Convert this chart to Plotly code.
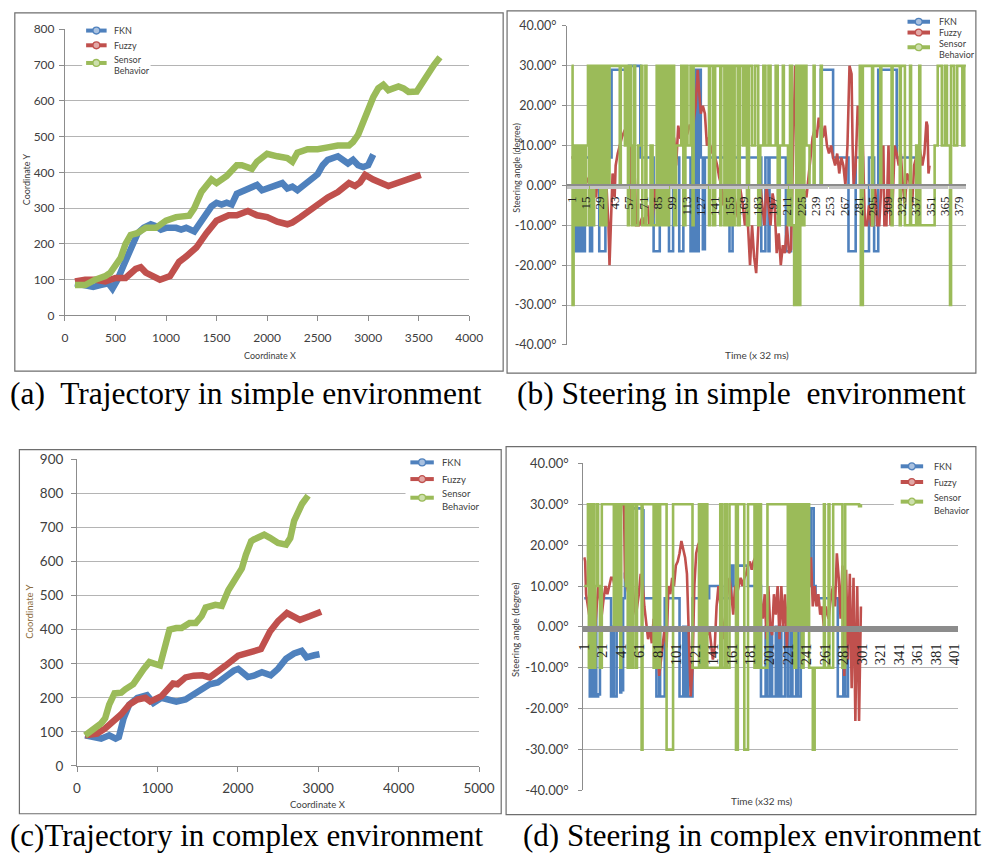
import plotly.graph_objects as go

W, H = 987, 860

# ---------------- (a) trajectory, simple environment ----------------
A_FKN_X = [100, 200, 280, 350, 430, 470, 520, 580, 650, 720, 780, 850, 900, 950, 1000, 1100, 1150, 1200, 1280,
           1320, 1400, 1450, 1500, 1550, 1600, 1650, 1700, 1800, 1900, 1950, 2000, 2050, 2150, 2200, 2250, 2300,
           2400, 2500, 2550, 2600, 2700, 2750, 2800, 2850, 2900, 2950, 3000, 3050]
A_FKN_Y = [90, 85, 80, 85, 90, 75, 100, 140, 190, 230, 245, 255, 250, 240, 245, 245, 240, 245, 235,
           250, 280, 305, 315, 310, 315, 310, 340, 355, 365, 350, 355, 360, 370, 355, 360, 350,
           370, 395, 420, 435, 445, 435, 425, 435, 420, 415, 420, 450]
A_FUZZY_X = [100, 200, 300, 400, 500, 600, 700, 750, 800, 940, 1040, 1130, 1200, 1300, 1400, 1500, 1620, 1700,
             1810, 1900, 2000, 2100, 2200, 2250, 2330, 2400, 2520, 2600, 2700, 2810, 2870, 2920, 2970, 3050,
             3200, 3300, 3400, 3520]
A_FUZZY_Y = [95, 100, 100, 95, 105, 105, 130, 135, 120, 100, 110, 150, 165, 190, 230, 265, 280, 280,
             292, 280, 275, 262, 255, 260, 275, 290, 312, 330, 345, 370, 362, 372, 393, 380,
             362, 372, 378, 393]
A_SENSOR_X = [100, 200, 300, 400, 450, 500, 550, 600, 650, 715, 750, 800, 900, 950, 1000, 1100, 1230, 1280,
              1350, 1450, 1500, 1600, 1700, 1750, 1850, 1900, 2000, 2100, 2200, 2250, 2300, 2400, 2500, 2600,
              2700, 2810, 2850, 2900, 2950, 3000, 3050, 3100, 3150, 3200, 3300, 3350, 3400, 3480, 3550, 3650,
              3710]
A_SENSOR_Y = [85, 85, 100, 110, 120, 137, 160, 200, 225, 230, 235, 245, 245, 255, 265, 275, 279, 300,
              345, 380, 370, 390, 420, 420, 410, 430, 452, 445, 440, 430, 455, 465, 465, 470,
              475, 475, 485, 505, 540, 580, 610, 635, 645, 630, 640, 635, 625, 626, 660, 700,
              722]

# ---------------- (b) steering, simple environment (time step, degree) ----------------
B_FKN = [(1, 7), (3, -16.5), (4, 7), (6, -16.5), (7, 7), (9, -16.5), (11, 7), (12, -16.5), (14, 7), (19, -16.5),
         (21, 7), (28, -16.5), (34, 7), (40, 29), (57, 30), (68, 7), (81, -16.5), (87, 7), (96, -16.5), (100, 7),
         (106, -16.5), (110, 7), (117, -16.5), (119, 29), (120, -16.5), (121, 29), (122, -16.5), (123, 29),
         (124, -16.5), (125, 29), (127, 7), (129, -16), (131, 7), (155, -16.5), (158, 7), (186, -16.5), (190, 7),
         (193, -16.5), (194, 7), (210, -16.5), (215, 0), (244, 29), (256, 7), (271, -16.5), (278, 7), (285, -16.5),
         (291, 7), (296, -16.5), (300, 29), (318, 7), (337, 7)]
B_FUZZY = [(1, 7), (3, 7), (4, 0), (6, 5), (8, -2), (10, 3), (12, -1), (14, 0), (18, 2), (22, 0), (25, -3), (27, 5),
           (29, 0), (31, -2), (33, 7), (35, 0), (37, -10), (38, -20), (40, -5), (41, 3), (43, -3), (44, 5), (46, 8),
           (48, 10), (50, 12), (53, 14), (55, 12), (56, 20), (57, 28), (58, 0), (59, -5), (61, 10), (63, 0),
           (64, -10), (67, -10), (70, -8), (72, -10), (75, -5), (77, -10), (80, -9), (82, 0), (84, -5), (86, -10),
           (88, 5), (90, 25), (91, 30), (92, 20), (93, 10), (95, 0), (97, 13), (99, 10), (101, 12), (103, 5),
           (105, 15), (107, 12), (112, 12), (114, 13), (116, 15), (118, 15), (120, 16), (122, 20), (124, 29),
           (125, 25), (127, 18), (129, 20), (131, 18), (133, 10), (135, 12), (137, 8), (139, 10), (141, 7),
           (143, 5), (145, 2), (147, 0), (149, -5), (151, 0), (153, -10), (155, -5), (157, 0), (160, -3),
           (163, -8), (165, 0), (168, -5), (170, -10), (172, -5), (174, -15), (175, -20), (177, -10), (179, -18),
           (181, -22), (183, -10), (185, 0), (187, -5), (189, -10), (191, 0), (193, -5), (195, -10), (197, -2),
           (199, -5), (201, -17), (203, -12), (205, -20), (207, -15), (209, -17), (211, -10), (213, -17),
           (215, -16), (217, 9), (219, 30), (220, 15), (222, 30), (224, 10), (226, 0), (230, -3), (233, 5),
           (236, 12), (238, 14), (240, 12), (242, 17), (244, 14), (246, 12), (248, 15), (250, 10), (252, 8),
           (254, 10), (256, 7), (258, 5), (260, 8), (262, 3), (264, 7), (266, 5), (268, 0), (270, 10), (272, 30),
           (274, 28), (275, 10), (276, 0), (278, 5), (280, 20), (282, 15), (283, 0), (285, 10), (287, -10),
           (289, -10), (291, -5), (293, -10), (295, -10), (297, 0), (299, -10), (301, -10), (303, 0), (305, 10),
           (306, -10), (308, -10), (310, 10), (312, -10), (314, -5), (316, 10), (318, 8), (320, 5), (322, 8),
           (324, 0), (326, -5), (328, 3), (330, 2), (333, -5), (335, 5), (338, 8), (340, 10), (343, 5), (345, 8),
           (347, 16), (348, 15), (349, 3), (350, 5)]
B_SENSOR = [(1, 30), (2, -30), (3, 10), (5, -10), (7, 10), (9, -10), (11, 10), (13, -10), (15, 10), (17, 30),
            (18, -10), (20, 30), (21, -10), (23, 30), (25, 0), (27, 30), (29, -10), (31, 30), (33, -10), (35, 30),
            (36, 0), (38, 30), (48, 0), (49, 30), (53, 10), (54, 30), (56, -10), (57, 30), (59, 10), (60, -10),
            (62, 30), (63, -10), (66, 10), (69, 30), (70, -10), (73, 30), (74, -10), (78, 10), (80, -10), (84, 30),
            (86, -10), (88, 30), (90, -10), (92, 30), (94, -10), (96, 30), (97, 0), (99, 30), (101, -10), (103, 10),
            (108, 30), (110, -10), (112, 30), (114, 10), (117, 30), (119, -10), (120, 30), (135, -10), (136, 30),
            (139, -10), (141, 30), (146, -10), (147, 30), (150, -10), (152, 30), (154, -10), (156, 30), (158, -10),
            (160, 30), (163, -10), (165, 30), (168, 10), (170, 30), (172, -10), (174, 30), (177, 10), (180, 30),
            (183, -10), (185, 10), (188, 30), (190, 10), (193, 30), (195, 10), (200, 30), (202, -10), (204, 10),
            (207, 30), (208, 10), (212, -10), (214, 30), (216, -10), (218, -30), (220, 30), (222, -30), (224, 30),
            (226, -10), (228, 30), (230, 10), (233, 0), (237, 30), (238, 0), (244, 30), (245, 0), (282, 30),
            (283, -30), (285, 30), (294, -10), (295, 30), (302, 0), (303, 30), (313, -10), (314, 30), (321, -10),
            (322, 30), (326, -10), (331, 30), (332, -10), (337, 10), (339, -10), (340, 30), (341, -10), (355, 10),
            (358, 30), (362, 10), (365, 30), (367, 10), (370, -30), (371, 30), (374, 10), (377, 30), (382, 10),
            (384, 30), (386, 30)]
B_TICKS = list(range(1, 380, 14))

# ---------------- (c) trajectory, complex environment ----------------
C_FKN_X = [100, 250, 300, 400, 480, 520, 580, 650, 750, 870, 950, 1050, 1150, 1235, 1350, 1450, 1550, 1650,
           1750, 1850, 1950, 2004, 2060, 2126, 2200, 2300, 2409, 2500, 2600, 2700, 2794, 2855, 2950, 3016]
C_FKN_Y = [90, 85, 80, 90, 80, 85, 140, 180, 200, 208, 185, 200, 195, 189, 195, 210, 230, 240,
           245, 265, 280, 285, 275, 261, 265, 275, 266, 285, 315, 330, 338, 319, 325, 328]
C_FUZZY_X = [100, 250, 350, 450, 547, 650, 750, 850, 911, 1050, 1194, 1250, 1350, 1450, 1559, 1650, 1750, 1850,
             2004, 2100, 2200, 2287, 2400, 2500, 2611, 2700, 2773, 2900, 3036]
C_FUZZY_Y = [90, 95, 110, 130, 151, 180, 195, 200, 189, 205, 242, 240, 260, 265, 266, 260, 275, 295,
             324, 330, 340, 343, 395, 425, 449, 440, 429, 440, 453]
C_SENSOR_X = [100, 200, 300, 350, 400, 466, 550, 600, 700, 830, 900, 1032, 1100, 1150, 1235, 1300, 1400, 1478,
              1550, 1600, 1721, 1800, 1882, 1950, 2050, 2100, 2166, 2200, 2328, 2400, 2500, 2600, 2652, 2700,
              2800, 2874]
C_SENSOR_Y = [90, 105, 125, 140, 180, 213, 215, 225, 240, 285, 305, 295, 360, 400, 405, 405, 420, 420,
              440, 465, 473, 470, 516, 540, 580, 620, 660, 665, 679, 670, 655, 650, 669, 720,
              770, 794]

# ---------------- (d) steering, complex environment ----------------
D_FKN = [(1, 7), (7, -17), (8, 0), (10, -17), (12, 7), (14, -17), (16, -16.5), (18, 0), (19, 7), (30, -17),
         (32, 0), (33, -17), (36, 0), (38, 7), (40, -16), (41, 0), (42, -15.5), (43, 7), (45, 13), (46, 29),
         (64, 28.5), (65, 7), (79, -17), (82, 0), (83, -17), (88, 7), (104, -17), (108, 0), (109, -17), (111, 0),
         (113, -17), (118, 7), (136, 10), (150, 7), (160, 15), (162, 10), (165, 15), (178, 10), (192, -17),
         (197, 0), (199, -17), (202, 0), (204, -17), (208, 0), (210, -17), (212, 0), (214, -17), (218, 0),
         (221, -17), (224, 0), (226, -17), (230, 0), (232, -17), (235, 7), (237, 29), (239, 0), (241, 29),
         (243, 10), (246, 29), (249, 10), (251, 7), (275, -17), (281, 5), (283, -17), (286, 5), (287, 5)]
D_FUZZY = [(1, 17), (2, 16), (3, 8), (5, 5), (7, 2), (8, 8), (10, 0), (12, -3), (14, 5), (16, 10), (18, 7),
           (20, 3), (22, 7), (24, 10), (26, 8), (28, 10), (30, 12), (32, 12), (34, 10), (36, 13), (38, 12),
           (40, 25), (41, 30), (44, 30), (45, 12), (47, 10), (49, 8), (51, 6), (53, 12), (55, 5), (57, 3), (60, 8),
           (62, 13), (64, 11), (66, 5), (68, 0), (70, -3), (72, 0), (74, -4), (76, 2), (78, -3), (80, -5),
           (82, -12), (84, -8), (86, -3), (88, 0), (90, -5), (92, 10), (94, 8), (96, 12), (98, 10), (100, 15),
           (102, 16), (104, 18), (106, 21), (108, 19), (110, 17), (112, 13), (114, -5), (116, -17), (118, -10),
           (120, 10), (122, 18), (124, 20), (126, 21), (128, 17), (130, 5), (132, 2), (134, -2), (136, 0),
           (138, -5), (140, -8), (142, -5), (144, 5), (146, 10), (148, 5), (150, 0), (152, -3), (154, 5),
           (156, 8), (158, 12), (160, 8), (162, 3), (164, 10), (166, 8), (168, 10), (170, 12), (172, 10),
           (174, 12), (176, 13), (178, 15), (180, 16), (182, 14), (184, 16), (186, 17), (188, 15), (190, 10),
           (192, 5), (194, 2), (196, 8), (198, -3), (200, 10), (202, 0), (204, -2), (206, 8), (208, 3), (210, 10),
           (212, -3), (214, 10), (216, 0), (218, 8), (220, -5), (222, 10), (224, 5), (226, 15), (228, 30),
           (232, 30), (234, 10), (236, 17), (238, 20), (240, 18), (242, 14), (244, 10), (246, 17), (248, 5),
           (250, 10), (252, 5), (254, 8), (256, 3), (258, 5), (260, 0), (262, 5), (265, 2), (268, 8), (270, 10),
           (272, 5), (274, 18), (276, 12), (278, 2), (280, 15), (282, -12), (284, 14), (286, -8), (288, 13),
           (290, -15), (292, 12), (294, -23), (296, 10), (298, -23), (300, 5)]
D_SENSOR = [(1, 10), (5, 30), (6, -10), (8, 30), (9, -10), (11, 30), (12, -10), (13, 10), (15, 30), (16, 10),
            (18, -10), (20, 30), (33, 0), (35, 30), (36, 0), (38, 30), (40, -10), (41, 30), (46, 10), (47, 30),
            (48, -10), (49, 30), (50, -10), (51, 30), (53, -10), (54, 30), (57, -10), (58, 30), (63, -30),
            (64, 30), (76, -10), (77, 30), (78, -10), (80, 30), (82, -10), (83, 30), (90, -30), (97, 30),
            (118, -10), (125, 30), (126, -10), (128, 30), (130, -10), (132, 30), (134, -10), (148, 30),
            (150, -10), (153, 30), (155, -10), (158, 30), (165, -30), (167, 30), (174, -30), (178, 30),
            (185, -10), (187, 30), (189, -10), (191, 30), (192, -10), (199, 30), (221, 0), (222, 30), (224, 0),
            (226, 30), (228, -10), (230, 30), (232, 0), (234, 30), (236, -10), (238, 30), (240, 0), (242, 30),
            (244, -10), (248, -30), (250, -10), (260, 30), (261, -10), (265, 30), (266, -10), (270, 30),
            (280, -10), (283, 30), (298, 29.5), (300, 30)]
D_TICKS = list(range(1, 402, 20))

SERIES_NAMES = ['FKN', 'Fuzzy', 'Sensor', 'Behavior']
BLUE, RED, GREEN = '#4F81BD', '#C0504D', '#9BBB59'
LIGHT = {BLUE: '#a9c1e0', RED: '#e2a9a7', GREEN: '#cddfad'}
COLORS = [BLUE, RED, GREEN]
AXC = '#8c8c8c'
GRID = '#b4b4b4'
TXT = '#404040'


def fx(p):
    return p / W


def fy(p):
    return 1 - p / H


fig = go.Figure()


def add_traj(series, xa, ya):
    for (xs, ys), c in zip(series, COLORS):
        fig.add_trace(go.Scatter(x=xs, y=ys, mode='lines', line=dict(color=c, width=6.5),
                                 xaxis=xa, yaxis=ya, showlegend=False, hoverinfo='skip'))


def add_steer(series, xa, ya):
    for pts, c in zip(series, COLORS):
        t = [p[0] for p in pts]
        v = [p[1] for p in pts]
        shape = 'linear' if c == RED else 'hv'
        fig.add_trace(go.Scatter(x=t, y=v, mode='lines', line=dict(color=c, width=2.6, shape=shape),
                                 xaxis=xa, yaxis=ya, showlegend=False, hoverinfo='skip'))


add_traj([(A_FKN_X, A_FKN_Y), (A_FUZZY_X, A_FUZZY_Y), (A_SENSOR_X, A_SENSOR_Y)], 'x', 'y')
add_steer([B_FKN, B_FUZZY, B_SENSOR], 'x2', 'y2')
add_traj([(C_FKN_X, C_FKN_Y), (C_FUZZY_X, C_FUZZY_Y), (C_SENSOR_X, C_SENSOR_Y)], 'x3', 'y3')
add_steer([D_FKN, D_FUZZY, D_SENSOR], 'x4', 'y4')

base_font = dict(family='Lato, Open Sans, sans-serif', color=TXT)


def traj_axes(xd, yd, xr, xdt, yr, ydt, fs, xstand, ystand, xname, yname):
    xa = dict(domain=xd, anchor=yname, range=xr, dtick=xdt, tick0=0, showgrid=False, zeroline=False,
              showline=True, linecolor=AXC, linewidth=1, ticks='outside', ticklen=5, tickcolor=AXC,
              tickfont=dict(size=fs, **base_font), ticklabelstandoff=xstand, fixedrange=True)
    ya = dict(domain=yd, anchor=xname, range=yr, dtick=ydt, tick0=0, showgrid=True, gridcolor=GRID, gridwidth=1,
              zeroline=False, showline=True, linecolor=AXC, linewidth=1, ticks='outside', ticklen=5,
              tickcolor=AXC, tickfont=dict(size=fs, **base_font), ticklabelstandoff=ystand, fixedrange=True)
    return xa, ya


def steer_axes(xd, yd, xr, ticks, fs_y, fs_x, ystand, xstand, tickcol, minorlen, xname):
    mid = (yd[0] + yd[1]) / 2
    xa = dict(domain=xd, range=xr, anchor='free', position=mid, tickmode='array', tickvals=ticks,
              ticktext=[str(t) for t in ticks], tickangle=-90, showgrid=False, zeroline=False, showline=True,
              linecolor=AXC, linewidth=1.5, ticks='outside', ticklen=minorlen, tickcolor=tickcol,
              minor=dict(ticks='outside', dtick=1, tick0=0, ticklen=minorlen, tickcolor=tickcol, tickwidth=1),
              tickfont=dict(size=fs_x, family='Liberation Serif, serif', color='#222222'),
              ticklabelstandoff=xstand, layer='above traces', fixedrange=True)
    vals = list(range(-40, 41, 10))
    ya = dict(domain=yd, anchor=xname, range=[-40, 40], tickmode='array', tickvals=vals,
              ticktext=[f'{v:.2f}°' for v in vals], showgrid=True, gridcolor=GRID, gridwidth=1,
              zeroline=False, showline=True, linecolor=AXC, linewidth=1, ticks='outside', ticklen=4,
              tickcolor=AXC, tickfont=dict(size=fs_y, **base_font), ticklabelstandoff=ystand, fixedrange=True)
    return xa, ya


xa1, ya1 = traj_axes([fx(59.3), fx(473.3)], [fy(313.3), fy(21.7)], [0, 4000], 500, [0, 800], 100, 12, 6, 2,
                     'x', 'y')
xa2, ya2 = steer_axes([fx(573.3), fx(981.7)], [fy(343.3), fy(18.3)], [-3.5, 385.4], B_TICKS, 12.5, 13, 3, 2,
                      '#c4c4c4', 3, 'x2')
xa3, ya3 = traj_axes([fx(71.7), fx(483.3)], [fy(772.3), fy(460)], [0, 5000], 1000, [0, 900], 100, 13.5, 5, 5,
                     'x3', 'y3')
xa4, ya4 = steer_axes([fx(590), fx(973.3)], [fy(797.3), fy(464)], [-0.06, 404.5], D_TICKS, 13, 14.5, 7, 6,
                      '#8c8c8c', 4, 'x4')

fig.update_layout(
    width=W, height=H, margin=dict(l=0, r=0, t=0, b=0),
    paper_bgcolor='white', plot_bgcolor='white', showlegend=False,
    xaxis=xa1, yaxis=ya1, xaxis2=xa2, yaxis2=ya2, xaxis3=xa3, yaxis3=ya3, xaxis4=xa4, yaxis4=ya4,
)

# ---- legends (Excel style: white box, thick line with a circle marker, small text) ----
# (bg box x0, y0, x1, y1), (symbol x0, x1), text x, symbol y per series, text y per label, font size
LEGENDS = [
    ((77, 15, 147, 70), (81, 102), 108, [23, 38, 56], [23, 38, 52, 64], 9),
    ((916, 5, 986, 53), (922, 945), 952, [14, 25, 40], [14, 25, 36, 47], 9),
    ((408, 454, 487, 516), (413, 437), 443, [463, 480, 499], [463, 480, 495, 508], 9.5),
    ((908, 458, 986, 520), (915, 938), 947, [467, 483, 503], [467, 483, 499, 512], 9),
]
for (bx0, by0, bx1, by1), (sx0, sx1), tx, sym_y, txt_y, fs in LEGENDS:
    fig.add_shape(type='rect', xref='paper', yref='paper', x0=fx(bx0), x1=fx(bx1), y0=fy(by1), y1=fy(by0),
                  line=dict(width=0), fillcolor='white', layer='above')
    for c, yy in zip(COLORS, sym_y):
        fig.add_shape(type='line', xref='paper', yref='paper', x0=fx(sx0), x1=fx(sx1), y0=fy(yy), y1=fy(yy),
                      line=dict(color=c, width=4), layer='above')
        cx = (sx0 + sx1) / 2
        fig.add_shape(type='circle', xref='paper', yref='paper', x0=fx(cx - 3.5), x1=fx(cx + 3.5),
                      y0=fy(yy + 3.5), y1=fy(yy - 3.5), line=dict(color=c, width=1.3),
                      fillcolor=LIGHT[c], layer='above')
    for name, yy in zip(SERIES_NAMES, txt_y):
        fig.add_annotation(text=name, x=fx(tx), y=fy(yy), xref='paper', yref='paper', showarrow=False,
                           xanchor='left', yanchor='middle', font=dict(size=fs, **base_font))

# panel borders
for x0, y0, x1, y1 in [(8, 5, 508, 370), (512, 3, 992, 372), (12.7, 450, 506, 821), (511, 447, 992, 822)]:
    fig.add_shape(type='rect', xref='paper', yref='paper', x0=fx(x0), x1=fx(x1), y0=fy(y1), y1=fy(y0),
                  line=dict(color='#6e6e6e', width=1.2), fillcolor='rgba(0,0,0,0)', layer='above')

# axis titles
titles = [
    ('Coordinate X', 269, 354, 0, 9, TXT),
    ('Coordinate Y', 20, 175, -90, 9, TXT),
    ('Time (x 32 ms)', 768, 354, 0, 10, TXT),
    ('Steering angle (degree)', 522, 163, -90, 9, TXT),
    ('Coordinate X', 318, 811.7, 0, 9.5, TXT),
    ('Coordinate Y', 22.7, 615, -90, 9.5, '#8B6B3D'),
    ('Time (x32 ms)', 773, 807.7, 0, 10, TXT),
    ('Steering angle (degree)', 520, 633, -90, 9.5, TXT),
]
for txt, x, y, ang, fs, col in titles:
    fig.add_annotation(text=txt, x=fx(x), y=fy(y), xref='paper', yref='paper', showarrow=False,
                       textangle=ang, xanchor='center', yanchor='middle',
                       font=dict(size=fs, family='Lato, Open Sans, sans-serif', color=col))

# captions
cap_font = dict(family='Liberation Serif, Times New Roman, serif', size=31.5, color='#000000')
fig.add_annotation(text='(a)  Trajectory in simple environment', x=fx(245), y=fy(393), xref='paper', yref='paper',
                   showarrow=False, xanchor='center', yanchor='middle', font=cap_font)
fig.add_annotation(text='(b) Steering in simple  environment', x=fx(752), y=fy(393), xref='paper', yref='paper',
                   showarrow=False, xanchor='center', yanchor='middle', font=cap_font)
fig.add_annotation(text='(c)Trajectory in complex environment', x=fx(1), y=fy(843), xref='paper', yref='paper',
                   showarrow=False, xanchor='left', yanchor='middle',
                   font=dict(family='Liberation Serif, Times New Roman, serif', size=31, color='#000000'))
fig.add_annotation(text='(d) Steering in complex environment', x=fx(526), y=fy(843), xref='paper', yref='paper',
                   showarrow=False, xanchor='left', yanchor='middle',
                   font=dict(family='Liberation Serif, Times New Roman, serif', size=31, color='#000000'))

fig.write_html('out.html', config={'displayModeBar': False})
